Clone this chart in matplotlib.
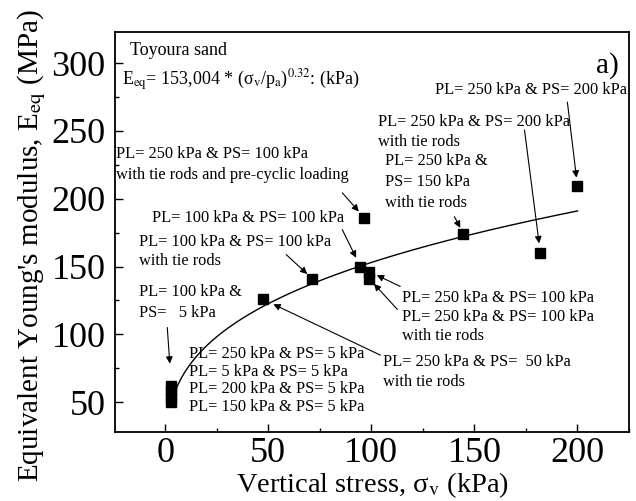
import numpy as np
import matplotlib.pyplot as plt
from matplotlib.ticker import MultipleLocator

plt.rcParams['font.family'] = ['Liberation Serif', 'DejaVu Serif']
plt.rcParams['mathtext.fontset'] = 'stix'

# Test results: vertical stress (kPa) vs equivalent Young's modulus (MPa)
stress_5kpa = [3, 3, 3, 3]
modulus_5kpa = [50, 54, 58, 62]
stress_pts = [47.6, 71.4, 94.7, 96.6, 99.0, 99.0, 144.7, 182.0, 200.0]
modulus_pts = [125.7, 141.0, 150.0, 186.0, 146.3, 141.0, 174.0, 160.0, 209.5]

# fitted relation written on the chart: E = 153.004 * (sv/pa)^0.32 (MPa)
E_COEF = 153.004
E_EXP = 0.32
P_ATM = 100.0

x_ticks = [0, 50, 100, 150, 200]
y_ticks = [50, 100, 150, 200, 250, 300]

fig = plt.figure(figsize=(6.36, 5.01), dpi=100)
ax = fig.add_axes([0.181, 0.138, 0.808, 0.798])

fit_stress = np.linspace(5, 200, 300)
fit_modulus = E_COEF * (fit_stress / P_ATM) ** E_EXP
ax.plot(fit_stress, fit_modulus, color='black', lw=1.0, zorder=2)

ax.plot(stress_5kpa, modulus_5kpa, 's', color='black', ms=6.5, zorder=3)
ax.plot(stress_pts, modulus_pts, 's', color='black', ms=6.5, zorder=3)

ax.set_xlim(-24.3, 225)
ax.set_ylim(28, 323)
ax.set_xticks(x_ticks)
ax.set_yticks(y_ticks)
ax.xaxis.set_minor_locator(MultipleLocator(25))
ax.yaxis.set_minor_locator(MultipleLocator(25))
ax.tick_params(which='major', direction='in', length=6, width=1.0,
               labelsize=26, pad=7)
ax.tick_params(axis='x', which='major', pad=4)
ax.tick_params(which='minor', direction='in', length=3, width=1.0)
for sp in ax.spines.values():
    sp.set_linewidth(1.3)

ax.set_xlabel('Vertical stress, σ$_{\\rm v}$ (kPa)', fontsize=20.5, labelpad=0)
ax.set_ylabel("Equivalent Young's modulus, E$_{\\rm eq}$ (MPa)", fontsize=21)
ax.yaxis.set_label_coords(-0.13, 0.465)

fs = 11.8
ax.text(-17, 309.6, 'Toyoura sand', fontsize=13, va='center')
ax.text(-20.9, 287.5,
        'E$_{\\rm eq}$= 153,004 * (σ$_{\\rm v}$/p$_{\\rm a}$)$^{0.32}$: (kPa)',
        fontsize=13, va='center')
ax.text(220, 298.5, 'a)', fontsize=21, ha='right', va='center')

# text blocks: (x, top y, line spacing, text)
labels = [
    (131, 286.0, 1.3, 'PL= 250 kPa & PS= 200 kPa'),
    (103.4, 262.5, 1.3, 'PL= 250 kPa & PS= 200 kPa\nwith tie rods'),
    (106.8, 233.5, 1.4, 'PL= 250 kPa &\nPS= 150 kPa\nwith tie rods'),
    (-24.0, 239.0, 1.4, 'PL= 250 kPa & PS= 100 kPa\nwith tie rods and pre-cyclic loading'),
    (-6.3, 192.0, 1.3, 'PL= 100 kPa & PS= 100 kPa'),
    (-12.6, 174.3, 1.3, 'PL= 100 kPa & PS= 100 kPa\nwith tie rods'),
    (-12.6, 136.8, 1.35, 'PL= 100 kPa &\nPS=   5 kPa'),
    (11.7, 91.2, 1.12, 'PL= 250 kPa & PS= 5 kPa\nPL= 5 kPa & PS= 5 kPa\n'
                       'PL= 200 kPa & PS= 5 kPa\nPL= 150 kPa & PS= 5 kPa'),
    (115, 132.4, 1.22, 'PL= 250 kPa & PS= 100 kPa\nPL= 250 kPa & PS= 100 kPa\nwith tie rods'),
    (105.8, 85.3, 1.3, 'PL= 250 kPa & PS=  50 kPa\nwith tie rods'),
]
for x, y, ls, s in labels:
    ax.text(x, y, s, fontsize=fs, ha='left', va='top', linespacing=ls)

# arrows: (tail x, tail y, target x, target y, gap at head in pt)
arrows = [
    (195.1, 271.3, stress_pts[8], modulus_pts[8], 6),
    (174.3, 250.7, stress_pts[7], modulus_pts[7], 7),
    (140.3, 186.8, stress_pts[6], modulus_pts[6], 5),
    (85.9, 204.4, stress_pts[3], modulus_pts[3], 6),
    (85.9, 177.2, stress_pts[2], modulus_pts[2], 7),
    (58.7, 158.8, stress_pts[1], modulus_pts[1], 5),
    (1.0, 105.0, stress_5kpa[3], modulus_5kpa[3], 16),
    (114.0, 135.3, stress_pts[4], modulus_pts[4], 6),
    (112.6, 118.4, stress_pts[5], modulus_pts[5], 5),
    (104.4, 84.6, stress_pts[0], modulus_pts[0], 8),
]
for tx, ty, px, py, gap in arrows:
    ax.annotate('', xy=(px, py), xytext=(tx, ty),
                arrowprops=dict(arrowstyle='-|>', color='black', lw=0.8,
                                mutation_scale=10, shrinkA=0, shrinkB=gap))

fig.savefig('out.png', dpi=100)
